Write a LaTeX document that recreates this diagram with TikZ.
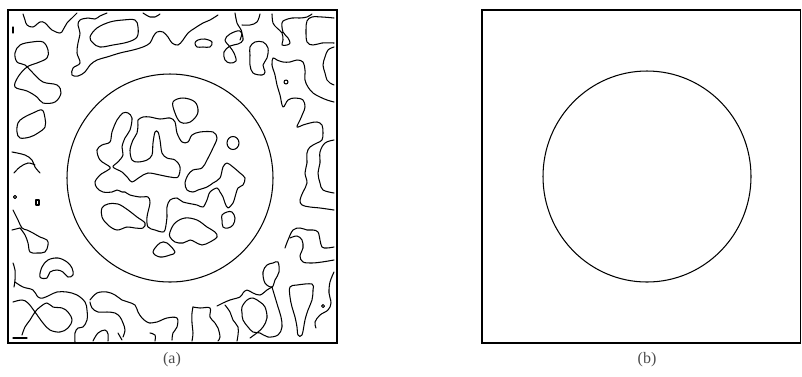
\documentclass[tikz,border=0pt]{standalone}
\usepackage{fontspec}
\setmainfont{Liberation Serif}
\begin{document}
\begin{tikzpicture}[x=1pt,y=-1pt,
  frame/.style={line width=1.9pt},
  contour/.style={line width=1.05pt,line join=round,line cap=round},
  lbl/.style={font=\fontsize{16}{18}\selectfont,text=black!70,inner sep=0pt}]
\useasboundingbox (0,0) rectangle (802,376);
% ---------------- panel (a) ----------------
\draw[frame] (8,10) rectangle (337,343);
\draw[contour] (170,178) ellipse [x radius=103,y radius=104];
% top-left
\draw[contour] plot[smooth,tension=0.6] coordinates {(23,14)(25,20)(27,25)(33,27)(40,22)(45,23)(52,30)(60,33)(63,30)(67,23)(72,18)(77,13)};
\draw[contour] (13,27) -- (13,33);
\draw[contour] plot[smooth cycle,tension=0.6] coordinates {(15,53)(20,45)(32,42)(43,42)(48,50)(47,58)(37,63)(27,67)(18,77)(15,87)(27,91)(37,97)(43,103)(55,102)(61,93)(57,85)(43,82)(33,73)(25,65)(17,62)};
\draw[contour] plot[smooth cycle,tension=0.6] coordinates {(18,123)(23,118)(33,113)(42,110)(45,118)(45,127)(38,133)(30,137)(20,138)(17,132)};
\draw[contour] plot[smooth,tension=0.6] coordinates {(12,152)(25,155)(32,160)(35,167)(40,173)};
\draw[contour] plot[smooth,tension=0.6] coordinates {(14,173)(20,167)(28,163)(35,165)};
\draw[contour] (15,197) circle [radius=1.6];
\draw[contour] (36,200) rectangle (39,205);
\draw[contour] plot[smooth,tension=0.6] coordinates {(13,210)(18,220)(22,228)(27,230)(33,233)(40,237)(47,240)(48,245)(45,252)(37,253)(30,252)(28,243)(25,235)(20,228)};
\draw[contour] (12,230) -- (20,228);
\draw[contour] plot[smooth cycle,tension=0.6] coordinates {(40,277)(42,267)(48,260)(58,258)(67,262)(72,268)(73,275)(68,277)(63,272)(57,270)(50,272)(47,278)};
\draw[contour] plot[smooth,tension=0.6] coordinates {(13,263)(15,270)(15,280)(14,287)};
\draw[contour] plot[smooth,tension=0.6] coordinates {(15,282)(23,287)(33,290)(38,297)(43,298)(50,295)(57,292)(67,292)(77,295)(85,302)(87,310)(87,320)(83,327)(78,328)(75,333)(75,342)};
\draw[contour] plot[smooth,tension=0.6] coordinates {(13,302)(22,300)(28,303)(35,312)(43,323)(50,330)(60,332)(68,328)(72,320)(68,312)(62,308)(53,307)(47,303)(40,307)(35,312)(30,320)(25,327)(22,335)};
\draw[contour] (13,338) -- (27,338);
% top band
\draw[contour] plot[smooth,tension=0.6] coordinates {(107,13)(100,16)(95,19)(88,18)(80,20)(78,25)(80,33)(78,43)(77,53)(80,63)(73,68)(72,75)(78,76)(85,72)(90,65)(97,60)(107,57)(120,53)(133,50)(143,47)(150,43)(153,37)(157,32)(163,32)(168,37)(172,43)(178,45)(183,40)(188,33)(195,28)(203,23)(210,20)(218,15)};
\draw[contour] plot[smooth cycle,tension=0.6] coordinates {(90,37)(97,28)(110,22)(123,20)(135,20)(138,27)(137,37)(128,42)(113,45)(100,47)(93,43)};
\draw[contour] plot[smooth,tension=0.6] coordinates {(143,13)(150,17)(155,17)(160,14)};
\draw[contour] plot[smooth cycle,tension=0.6] coordinates {(195,43)(198,40)(205,39)(212,42)(210,47)(203,47)(197,47)};
\draw[contour] plot[smooth,tension=0.6] coordinates {(235,13)(237,23)(240,28)(242,33)(240,40)};
\draw[contour] plot[smooth cycle,tension=0.6] coordinates {(225,40)(230,34)(240,31)(243,40)(238,44)(230,46)(224,52)(225,60)(230,63)(236,61)(234,53)(230,47)};
\draw[contour] plot[smooth,tension=0.6] coordinates {(242,25)(250,25)(257,22)(260,14)};
\draw[contour] plot[smooth cycle,tension=0.6] coordinates {(250,47)(255,42)(263,42)(268,48)(267,58)(263,65)(265,72)(262,75)(253,73)(250,65)(250,55)};
\draw[contour] plot[smooth,tension=0.6] coordinates {(272,14)(273,23)(277,28)(282,33)(283,40)(282,45)(287,45)(290,43)(288,38)(283,32)(282,23)(285,20)(292,18)(300,18)(307,17)(312,14)};
\draw[contour] plot[smooth,tension=0.6] coordinates {(334,18)(322,17)(312,17)(307,21)(306,30)(307,42)(313,45)(322,43)(334,43)};
% right strip
\draw[contour] plot[smooth,tension=0.6] coordinates {(334,102)(327,100)(320,97)(313,93)(308,87)(305,80)(305,70)(303,62)(297,60)(290,62)(283,62)(277,60)(273,58)(272,65)(275,75)(277,85)(280,95)(283,107)(288,100)(295,98)(303,100)(305,107)(303,113)(300,120)(297,127)(303,125)(310,123)(317,122)(322,125)(323,133)(322,140)(317,143)(310,147)(307,153)(307,163)(305,173)(307,183)(303,192)(300,200)(302,205)(310,207)(320,208)(334,210)};
\draw[contour] (286,82) circle [radius=2];
\draw[contour] plot[smooth,tension=0.6] coordinates {(334,47)(328,50)(325,57)(323,65)(325,73)(327,80)(330,83)(334,85)};
\draw[contour] plot[smooth,tension=0.6] coordinates {(334,140)(325,143)(320,152)(320,163)(318,173)(320,183)(323,190)(334,193)};
\draw[contour] plot[smooth,tension=0.6] coordinates {(285,248)(288,240)(293,230)(300,228)(307,230)(313,230)(318,232)(320,240)(322,247)(327,248)(334,247)};
\draw[contour] plot[smooth,tension=0.6] coordinates {(290,238)(297,236)(302,240)(303,248)(300,256)(303,262)(312,263)(322,262)(334,260)};
\draw[contour] plot[smooth cycle,tension=0.6] coordinates {(290,287)(297,285)(312,284)(313,290)(312,300)(308,310)(305,320)(302,335)(298,335)(297,327)(295,317)(292,307)(290,297)};
\draw[contour] plot[smooth,tension=0.6] coordinates {(334,272)(330,282)(329,293)(331,303)(328,310)(320,315)(315,322)(316,328)};
\draw[contour] (323,306) circle [radius=1.5];
% bottom right cluster
\draw[contour] plot[smooth cycle,tension=0.6] coordinates {(273,263)(278,262)(279,272)(275,280)(272,287)(265,283)(263,272)(267,265)};
\draw[contour] plot[smooth,tension=0.6] coordinates {(272,287)(275,297)(278,307)(281,317)(282,327)(278,335)(268,337)(260,333)(253,332)(248,327)(243,320)(242,313)(242,307)(247,300)(253,298)(260,302)(265,307)(267,318)(263,327)(258,332)(250,338)};
\draw[contour] plot[smooth,tension=0.6] coordinates {(272,287)(267,290)(260,295)(253,293)(247,290)(243,293)(240,297)(230,300)(223,303)(217,306)};
\draw[contour] plot[smooth,tension=0.6] coordinates {(225,305)(230,312)(233,320)(238,327)(238,335)(237,341)};
\draw[contour] plot[smooth,tension=0.6] coordinates {(193,307)(200,308)(210,308)(210,317)(215,323)(218,328)(220,337)(218,341)};
\draw[contour] plot[smooth,tension=0.6] coordinates {(193,307)(192,313)(192,323)(193,333)(192,341)};
\draw[contour] plot[smooth,tension=0.6] coordinates {(150,323)(157,322)(167,318)(177,318)(177,327)(173,333)(172,340)};
\draw[contour] plot[smooth,tension=0.6] coordinates {(150,333)(155,335)(155,341)};
\draw[contour] plot[smooth,tension=0.6] coordinates {(90,300)(97,293)(107,292)(115,295)(122,300)(128,302)(135,305)(138,312)(142,318)(147,322)(150,323)};
\draw[contour] plot[smooth,tension=0.6] coordinates {(90,302)(92,308)(98,312)(107,312)(115,313)(120,317)(123,323)(125,330)(123,337)};
\draw[contour] plot[smooth,tension=0.6] coordinates {(93,341)(98,333)(105,330)(108,334)(108,341)};
\draw[contour] (118,333) -- (122,340);
% inside the circle
\draw[contour] plot[smooth cycle,tension=0.55] coordinates {(110,167)(100,160)(97,150)(102,145)(110,142)(112,132)(117,120)(123,113)(128,113)(132,118)(130,130)(125,138)(122,147)(123,155)(118,162)(113,167)(122,172)(128,178)(132,182)(140,177)(148,173)(160,175)(170,177)(178,177)(180,167)(175,160)(167,158)(162,153)(160,140)(158,132)(155,132)(153,143)(152,155)(147,160)(138,162)(132,160)(130,150)(133,140)(137,133)(138,125)(138,120)(143,117)(150,117)(160,119)(170,118)(175,122)(177,133)(182,142)(188,142)(192,135)(200,132)(213,132)(217,138)(213,148)(207,160)(202,168)(193,170)(188,175)(185,183)(187,190)(193,192)(198,190)(207,187)(213,183)(220,178)(223,167)(227,163)(233,167)(240,173)(245,178)(243,185)(238,188)(235,197)(233,203)(228,208)(225,203)(223,197)(220,192)(217,188)(210,192)(207,200)(203,207)(197,205)(183,202)(177,198)(170,200)(167,207)(167,217)(165,230)(162,232)(155,230)(148,227)(147,217)(150,203)(148,197)(140,197)(130,195)(125,192)(122,192)(117,190)(112,192)(103,192)(97,188)(95,182)(100,175)(108,170)};
\draw[contour] plot[smooth cycle,tension=0.6] coordinates {(173,102)(183,98)(195,102)(198,112)(193,120)(187,123)(180,122)(175,113)};
\draw[contour] (233,143) ellipse [x radius=6,y radius=6.5];
\draw[contour] plot[smooth cycle,tension=0.6] coordinates {(102,208)(108,204)(118,204)(128,210)(137,217)(145,223)(143,228)(135,228)(127,227)(117,230)(108,225)(102,217)};
\draw[contour] plot[smooth cycle,tension=0.6] coordinates {(170,232)(175,223)(185,218)(197,220)(207,227)(215,232)(217,237)(210,242)(202,245)(195,242)(190,240)(183,243)(175,242)(170,237)};
\draw[contour] plot[smooth cycle,tension=0.6] coordinates {(153,252)(160,243)(167,243)(175,252)(170,255)(160,257)};
\draw[contour] plot[smooth cycle,tension=0.6] coordinates {(222,215)(227,212)(232,212)(235,218)(233,225)(228,228)(223,227)(222,220)};
\node[lbl] (la) at (172,360) {(a)};
% ---------------- panel (b) ----------------
\draw[frame] (482,10) rectangle (800.5,343);
\draw[contour] (647,176.5) ellipse [x radius=104,y radius=105.5];
\node[lbl] (lb) at (647,360) {(b)};
\end{tikzpicture}
\end{document}
